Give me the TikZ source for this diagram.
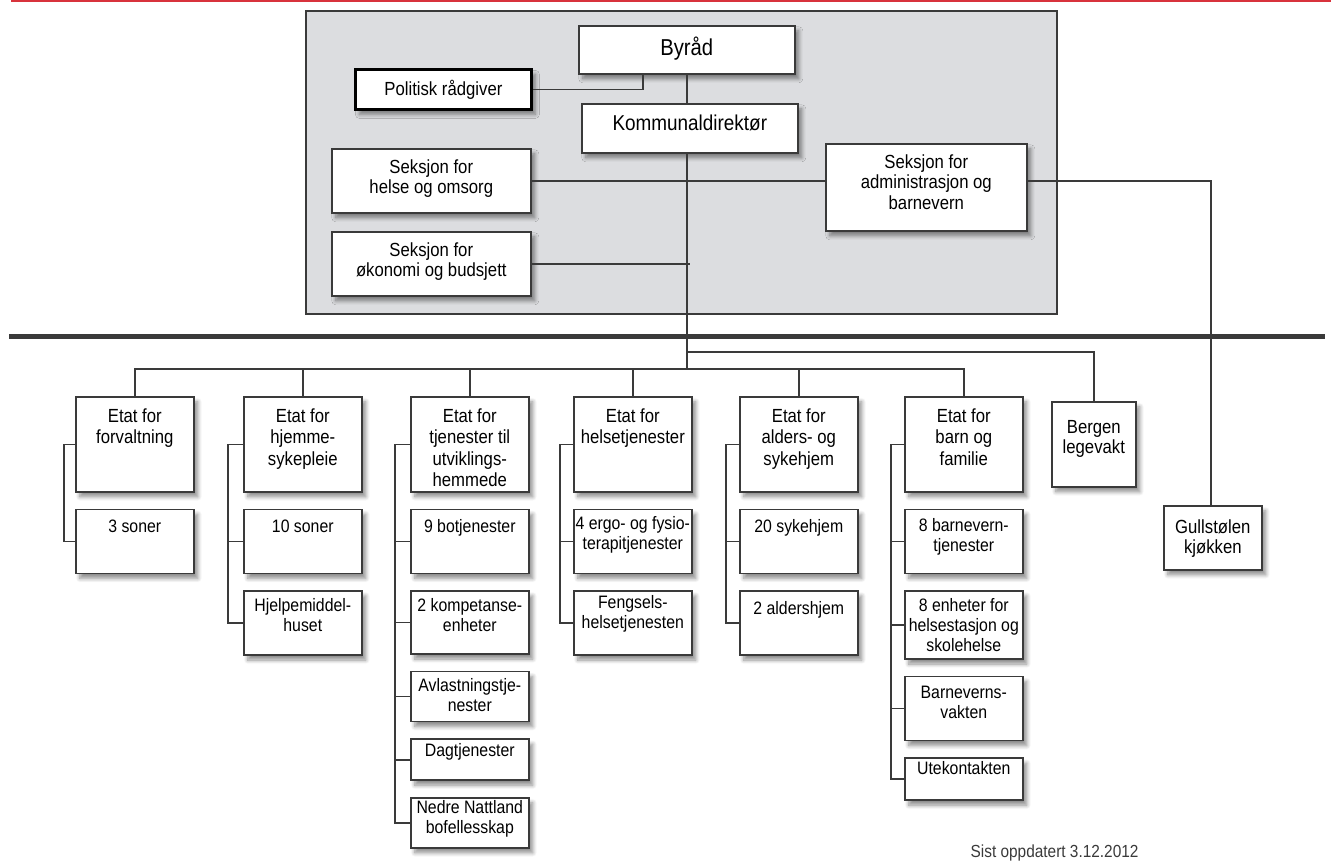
\documentclass[tikz,border=0pt]{standalone}
\usepackage{fontspec}
\setmainfont[FakeStretch=0.88]{Liberation Sans}
\usetikzlibrary{positioning}
\usetikzlibrary{shadows.blur}
\definecolor{panelgray}{HTML}{DCDDE0}
\definecolor{linegray}{HTML}{3A3A3A}
\definecolor{topred}{HTML}{D8333C}

\begin{document}
\begin{tikzpicture}[x=1pt,y=-1pt,node distance=16pt,
    box/.style n args={3}{draw=linegray,line width=1.6pt,fill=white,inner sep=0pt,
      blur shadow={shadow xshift=4pt,shadow yshift=-5pt,shadow blur radius=4pt,shadow blur steps=8,shadow opacity=45},
      execute at begin node={\begin{minipage}[t][#2pt][t]{#1pt}\centering\vspace*{#3pt}},
      execute at end node={\end{minipage}}},
    top/.style={anchor=north west,font=\fontsize{19}{20.5}\selectfont},
    etat/.style={box={118}{95}{11.5},anchor=north west,font=\fontsize{19}{21.5}\selectfont},
    enhet/.style 2 args={box={118}{#1}{#2},font=\fontsize{18}{20}\selectfont},
    link/.style={draw=linegray,line width=1.6pt}]
    \useasboundingbox (0,0) rectangle (1331,862);
    % red rule and the grey panel
    \draw[topred,line width=2.5pt] (11,1) -- (1331,1);
    \draw[draw=linegray,fill=panelgray,line width=1.6pt] (306,11) rectangle (1057,314);
    % byraad
    \node[box={216}{48}{11},top,font=\fontsize{23}{26}\selectfont] (byraad)     at (578,25)  {Byråd};
    \node[box={176}{40}{10.5},top,draw=black,line width=2.8pt]     (politisk)   at (354,68)  {Politisk rådgiver};
    \node[box={216}{49}{11.5},top,font=\fontsize{21.5}{24}\selectfont] (kommunal) at (581,103) {Kommunaldirektør};
    \node[box={199}{64}{10.5},top]                                 (sekhelse)   at (331,148) {Seksjon for\\helse og omsorg};
    \node[box={199}{64}{10.5},top]                                 (sekokonomi) at (331,231) {Seksjon for\\økonomi og budsjett};
    \node[box={201}{87}{10.5},top]                                 (sekadmin)   at (825,143) {Seksjon for\\administrasjon og\\barnevern};
    \draw[link] (politisk.east) -| ([xshift=65pt]byraad.south west);
    \draw[link] (byraad.south) -- (byraad.south |- kommunal.north);
    \draw[link] (sekhelse.east) -- (sekhelse.east -| sekadmin.west);
    \draw[link] (sekokonomi.east) -- ([xshift=3pt]sekokonomi.east -| byraad.south);
    \draw[link] (sekhelse.east -| sekadmin.east) -| (1211,505);
    % thick rule
    \draw[linegray,line width=5pt] (9,336) -- (1325,336);
    % etater
    \node[etat] (forv)    at (75,396)  {Etat for\\forvaltning};
    \node[etat] (hjem)    at (243,396) {Etat for\\hjemme-\\sykepleie};
    \node[etat] (tjen)    at (410,396) {Etat for\\tjenester til\\utviklings-\\hemmede};
    \node[etat] (helsetj) at (573,396) {Etat for\\helsetjenester};
    \node[etat] (alders)  at (739,396) {Etat for\\alders- og\\sykehjem};
    \node[etat] (barn)    at (904,396) {Etat for\\barn og\\familie};
    \node[box={84}{85}{18.5},top]  (legevakt) at (1051,401) {Bergen\\legevakt};
    \node[box={98}{64}{13.5},top]  (kjokken)  at (1163,505) {Gullstølen\\kjøkken};
    % enheter
    \node[enhet={64}{10.5}, below=of forv]         (soner3)       {3 soner};
    \node[enhet={64}{10.5}, below=of hjem]         (soner10)      {10 soner};
    \node[enhet={64}{7.5},  below=of soner10]      (hjelpemiddel) {Hjelpemiddel-\\huset};
    \node[enhet={64}{10.5}, below=of tjen]         (botj)         {9 botjenester};
    \node[enhet={63}{7.5},  below=of botj]         (kompetanse)   {2 kompetanse-\\enheter};
    \node[enhet={50}{6.5},  below=of kompetanse]   (avlastning)   {Avlastningstje-\\nester};
    \node[enhet={41}{4.5},  below=of avlastning]   (dagtj)        {Dagtjenester};
    \node[enhet={50}{2.5},  below=of dagtj]        (nattland)     {Nedre Nattland\\bofellesskap};
    \node[enhet={64}{7.5},  below=of helsetj]      (ergo)         {4 ergo- og fysio-\\terapitjenester};
    \node[enhet={64}{4.5},  below=of ergo]         (fengsel)      {Fengsels-\\helsetjenesten};
    \node[enhet={64}{10.5}, below=of alders]       (sykehjem)     {20 sykehjem};
    \node[enhet={64}{10.5}, below=of sykehjem]     (aldershjem)   {2 aldershjem};
    \node[enhet={64}{9.5},  below=of barn]         (bvtj)         {8 barnevern-\\tjenester};
    \node[enhet={68}{7.5},  below=of bvtj]         (helsestasjon) {8 enheter for\\helsestasjon og\\skolehelse};
    \node[enhet={64}{9.5},  below=of helsestasjon] (bvvakt)       {Barneverns-\\vakten};
    \node[enhet={42}{3.5},  below=of bvvakt]       (ute)          {Utekontakten};
    % busses
    \coordinate (bus)   at (687,369);
    \coordinate (busup) at (687,352);
    \draw[link] (kommunal.south -| bus) -- (bus);
    \draw[link] (forv.north) |- (bus) -| (barn.north);
    \foreach \e in {hjem,tjen,helsetj,alders}
      \draw[link] (\e.north) -- (\e.north |- bus);
    \draw[link] (busup) -| (legevakt.north);
    % brackets
    \draw[link] (forv.west) -- ++(-11,0) |- (soner3.west);
    \foreach \e in {soner10,hjelpemiddel}
      \draw[link] (hjem.west) -- ++(-15,0) |- (\e.west);
    \foreach \e in {botj,kompetanse,avlastning,dagtj,nattland}
      \draw[link] (tjen.west) -- ++(-15,0) |- (\e.west);
    \foreach \e in {ergo,fengsel}
      \draw[link] (helsetj.west) -- ++(-13,0) |- (\e.west);
    \foreach \e in {sykehjem,aldershjem}
      \draw[link] (alders.west) -- ++(-13,0) |- (\e.west);
    \foreach \e in {bvtj,helsestasjon,bvvakt,ute}
      \draw[link] (barn.west) -- ++(-13,0) |- (\e.west);
    \node[anchor=base east,font=\fontsize{17.5}{18}\selectfont,text=linegray] (dato) at (1142,857) {Sist oppdatert 3.12.2012};
\end{tikzpicture}
\end{document}
